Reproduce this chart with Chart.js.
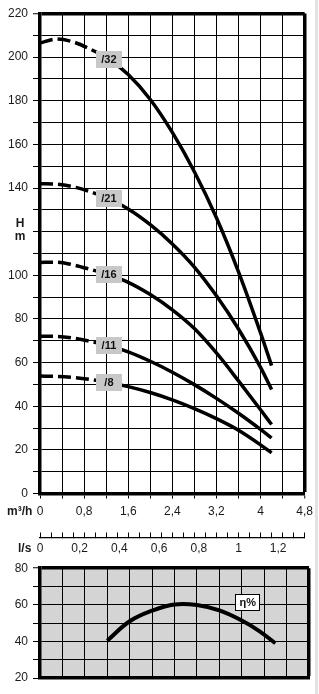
<!DOCTYPE html>
<html>
<head>
<meta charset="utf-8">
<script src="https://cdn.jsdelivr.net/npm/chart.js@4.4.1/dist/chart.umd.min.js"></script>
<style>
  html, body { margin: 0; padding: 0; background: #fff; }
  #page { position: relative; width: 319px; height: 694px; overflow: hidden;
          font-family: 'Liberation Sans', Arial, sans-serif; color: #1a1a1a; }
  canvas { position: absolute; left: 0; }
  #curves { top: 0; }
  #eff { top: 556px; }
  .unit { position: absolute; font-weight: bold; font-size: 12px; line-height: 13px; }
  #edge { position: absolute; left: 315px; top: 0; width: 3px; height: 694px; background: #e2e2e2; }
</style>
</head>
<body>
<div id="page">
  <canvas id="curves" width="319" height="560"></canvas>
  <canvas id="eff" width="319" height="138"></canvas>
  <div class="unit" style="left:14px; top:217px; width:12px; text-align:center;">H<br>m</div>
  <div class="unit" style="left:7px; top:505px;">m³/h</div>
  <div class="unit" style="left:18px; top:542px;">l/s</div>
  <div id="edge"></div>
</div>
<script>
// caudal (m³/h) común a todas las curvas H-Q
const flowM3h = [0, 0.3, 0.6, 0.9, 1.25, 1.6, 2.0, 2.4, 2.8, 3.2, 3.6, 4.0, 4.2];

const head32 = [206.5, 208.3, 207, 203.8, 199, 192, 180.6, 165.5, 147.5, 126.4, 101.6, 73.6, 58.6];
const head21 = [142, 141.8, 140.6, 138.4, 135, 130.4, 123.2, 114.4, 103.8, 90.6, 75.4, 57.8, 47.7];
const head16 = [105.9, 106, 104.8, 102.8, 100.2, 96.8, 91.2, 84.2, 75.6, 64.4, 51.6, 38.4, 31.6];
const head11 = [72.1, 72, 71.2, 69.8, 67.8, 64.9, 60.6, 55.6, 49.9, 43.6, 36.8, 29.4, 25.5];
const head8 = [53.8, 53.7, 53.2, 52.3, 50.9, 49.0, 46.3, 42.9, 38.9, 34.3, 29.0, 22.3, 18.6];

const curveNames = ['/32', '/21', '/16', '/11', '/8'];
const curveHeads = [head32, head21, head16, head11, head8];
const dashedUpTo = 1.25;   // tramo punteado al inicio de cada curva
const tagFlow = 1.25;      // donde va la etiqueta gris

// rendimiento
const etaFlow = [1.2, 1.6, 2.0, 2.4, 2.8, 3.2, 3.6, 3.9, 4.2];
const etaValues = [40.4, 51, 56.8, 60.2, 59.9, 56.9, 51.4, 45.9, 39];
const etaTagAt = [3.7, 61.5];

// escala secundaria l/s
const lsLabels = [0, 0.2, 0.4, 0.6, 0.8, 1, 1.2];
// el 120 del eje H lo tapa el título "H m"
const hiddenHeadLabels = [120];

const FONT = "'Liberation Sans', Arial, sans-serif";
Chart.defaults.font.family = FONT;
Chart.defaults.font.size = 12;
Chart.defaults.color = '#1a1a1a';

const comma = v => String(Math.round(v * 10) / 10).replace('.', ',');
const near = (a, b) => Math.abs(a - b) < 1e-6;
const isLsLabel = v => lsLabels.some(l => near(l, v));
const isLsMinor = v => near(Math.round(v * 18) / 18, v);

const curveTags = {
  id: 'curveTags',
  afterDatasetsDraw(chart) {
    const ctx = chart.ctx;
    const idx = flowM3h.indexOf(tagFlow);
    chart.data.datasets.forEach((ds, i) => {
      const pt = chart.getDatasetMeta(i).data[idx];
      ctx.save();
      ctx.fillStyle = '#c8c8c8';
      ctx.fillRect(Math.round(pt.x - 13), Math.round(pt.y - 8.5), 26, 17);
      ctx.fillStyle = '#111';
      ctx.font = 'bold 11px ' + FONT;
      ctx.textAlign = 'center';
      ctx.textBaseline = 'middle';
      ctx.fillText(ds.label, pt.x, pt.y + 0.5);
      ctx.restore();
    });
  }
};

const thickAt = (val) => (c) => (c.tick && near(c.tick.value, val)) ? 3.5 : 1;

new Chart(document.getElementById('curves'), {
  type: 'line',
  data: {
    datasets: curveNames.map((name, i) => ({
      label: name,
      data: flowM3h.map((q, j) => ({ x: q, y: curveHeads[i][j] })),
      borderColor: '#000',
      borderWidth: 3.5,
      pointRadius: 0,
      cubicInterpolationMode: 'monotone',
      segment: {
        borderDash: c => c.p1.parsed.x <= dashedUpTo ? [13, 5] : undefined
      }
    }))
  },
  options: {
    responsive: false,
    animation: false,
    layout: { padding: { top: 13.5, right: 10, bottom: 2.5, left: 0 } },
    plugins: { legend: { display: false }, tooltip: { enabled: false } },
    scales: {
      x: {
        type: 'linear', min: 0, max: 4.8, weight: 0,
        afterFit: s => { s.height = 44; },
        border: { display: true, color: '#000', width: 3.5 },
        grid: { color: '#000', lineWidth: thickAt(4.8), tickWidth: 1, tickLength: 5 },
        ticks: {
          stepSize: 0.4, autoSkip: false, maxRotation: 0, padding: 6,
          callback: v => near(Math.round(v / 0.8) * 0.8, v) ? comma(v) : ''
        }
      },
      x2: {
        type: 'linear', position: 'bottom', min: 0, max: 4.8 / 3.6, weight: 1,
        afterFit: s => { s.height = 20; },
        afterBuildTicks: s => {
          const vals = [];
          for (let k = 0; k <= 24; k++) vals.push(k / 18);
          lsLabels.forEach(v => { if (!vals.some(u => near(u, v))) vals.push(v); });
          vals.sort((a, b) => a - b);
          s.ticks = vals.map(v => ({ value: v }));
        },
        border: { display: true, color: '#000', width: 1.2 },
        grid: {
          drawOnChartArea: false, tickLength: -5, tickWidth: 1,
          tickColor: c => (c.tick && isLsMinor(c.tick.value)) ? '#000' : 'rgba(0,0,0,0)'
        },
        ticks: {
          autoSkip: false, maxRotation: 0, padding: 9,
          callback: v => isLsLabel(v) ? comma(v) : ''
        }
      },
      y: {
        min: 0, max: 220,
        afterFit: s => { s.width = 40; },
        border: { display: true, color: '#000', width: 3.5 },
        grid: { color: '#000', lineWidth: thickAt(220), tickWidth: 1, tickLength: 7 },
        ticks: {
          stepSize: 10, autoSkip: false, padding: 5,
          callback: v => (v % 20 === 0 && !hiddenHeadLabels.includes(v)) ? String(v) : ''
        }
      }
    }
  },
  plugins: [curveTags]
});

const plotBg = {
  id: 'plotBg',
  beforeDraw(chart) {
    const a = chart.chartArea;
    chart.ctx.save();
    chart.ctx.fillStyle = '#d4d4d4';
    chart.ctx.fillRect(a.left, a.top, a.right - a.left, a.bottom - a.top);
    chart.ctx.restore();
  }
};

const etaTag = {
  id: 'etaTag',
  afterDatasetsDraw(chart) {
    const ctx = chart.ctx;
    const x = chart.scales.x.getPixelForValue(etaTagAt[0]);
    const y = chart.scales.y.getPixelForValue(etaTagAt[1]);
    ctx.save();
    ctx.fillStyle = '#fff';
    ctx.fillRect(Math.round(x - 12) + 0.5, Math.round(y - 8) + 0.5, 24, 16);
    ctx.strokeStyle = '#000';
    ctx.lineWidth = 1;
    ctx.strokeRect(Math.round(x - 12) + 0.5, Math.round(y - 8) + 0.5, 24, 16);
    ctx.fillStyle = '#111';
    ctx.font = 'bold 11px ' + FONT;
    ctx.textAlign = 'center';
    ctx.textBaseline = 'middle';
    ctx.fillText('η%', x + 0.5, y + 1);
    ctx.restore();
  }
};

new Chart(document.getElementById('eff'), {
  type: 'line',
  data: {
    datasets: [{
      label: 'η%',
      data: etaFlow.map((q, j) => ({ x: q, y: etaValues[j] })),
      borderColor: '#000',
      borderWidth: 4,
      pointRadius: 0,
      tension: 0.4
    }]
  },
  options: {
    responsive: false,
    animation: false,
    layout: { padding: { top: 10, right: 10, bottom: 16, left: 0 } },
    plugins: { legend: { display: false }, tooltip: { enabled: false } },
    scales: {
      x: {
        type: 'linear', min: 0, max: 4.8,
        afterFit: s => { s.height = 0; },
        border: { display: true, color: '#000', width: 3.5 },
        grid: { color: '#000', lineWidth: thickAt(4.8), drawTicks: false },
        ticks: { stepSize: 0.4, display: false, autoSkip: false }
      },
      y: {
        min: 20, max: 80,
        afterFit: s => { s.width = 40; },
        border: { display: true, color: '#000', width: 3.5 },
        grid: { color: '#000', lineWidth: thickAt(80), tickWidth: 1, tickLength: 7 },
        ticks: {
          stepSize: 10, autoSkip: false, padding: 5,
          callback: v => v % 20 === 0 ? String(v) : ''
        }
      }
    }
  },
  plugins: [plotBg, etaTag]
});
</script>
</body>
</html>
